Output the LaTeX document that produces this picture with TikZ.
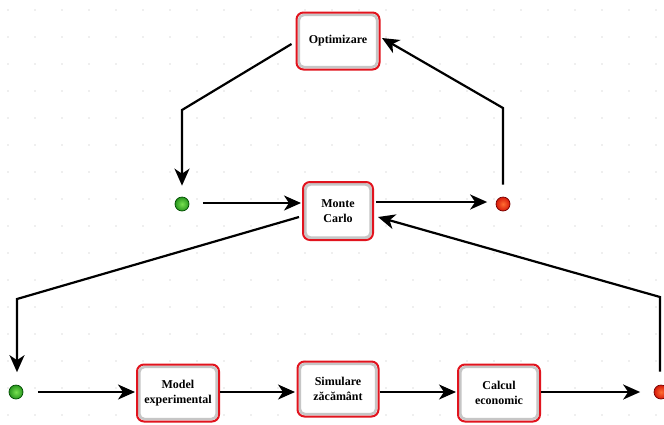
\documentclass[tikz,border=0pt]{standalone}
\usepackage{fontspec}
\setmainfont{Liberation Serif}
\usetikzlibrary{arrows.meta}
\definecolor{boxred}{RGB}{225,20,30}
\definecolor{gin}{RGB}{120,225,80}
\definecolor{gout}{RGB}{40,150,30}
\definecolor{rin}{RGB}{255,110,50}
\definecolor{rout}{RGB}{215,25,10}
\tikzset{
  procbox/.style={draw=boxred, line width=2pt, rounded corners=7pt, fill=white,
    align=center, inner sep=0pt,
    font=\fontsize{12}{15}\selectfont\bfseries,
    path picture={\draw[gray!45, line width=2.6pt, rounded corners=5pt]
      ([shift={(2.4pt,-2.4pt)}]path picture bounding box.north west) rectangle
      ([shift={(-2.4pt,2.4pt)}]path picture bounding box.south east);}},
  gdot/.style={circle, minimum size=14pt, inner sep=0pt, draw=green!30!black, line width=0.7pt, inner color=gin, outer color=gout},
  rdot/.style={circle, minimum size=14pt, inner sep=0pt, draw=red!45!black, line width=0.7pt, inner color=rin, outer color=rout},
  conn/.style={line width=2.2pt, -{Stealth[length=17pt,width=15pt,inset=5pt]}}
}
\begin{document}
\begin{tikzpicture}[x=1pt,y=-1pt]
\useasboundingbox (0,0) rectangle (664,424);
\fill[white] (0,0) rectangle (664,424);
% faint background dot grid
\foreach \i in {0,...,24}{\foreach \j in {0,...,15}{
  \fill[gray!25] (8+27*\i,10+27*\j) circle (0.8);}}
% nodes
\node[procbox, minimum width=83pt, minimum height=57pt] (opt) at (338,41) {Optimizare};
\node[procbox, minimum width=70pt, minimum height=58pt] (mc) at (338,211) {Monte\\Carlo};
\node[gdot] (g1) at (182,204) {};
\node[rdot] (r1) at (503,204) {};
\node[gdot] (g2) at (16,392) {};
\node[rdot] (r2) at (661,392) {};
\node[procbox, minimum width=82pt, minimum height=57pt] (me) at (178,393) {Model\\experimental};
\node[procbox, minimum width=81pt, minimum height=55pt] (sz) at (338,389) {Simulare\\zăcământ};
\node[procbox, minimum width=82pt, minimum height=57pt] (ce) at (499,393) {Calcul\\economic};
% bend points
\coordinate (b1) at (182,110);
\coordinate (b2) at (503,108);
\coordinate (b3) at (17,299);
\coordinate (b4) at (660,297);
% connectors
\draw[conn] ([xshift=-4pt,yshift=-3pt]opt.west) -- (b1) -- ([yshift=11pt]g1.north);
\draw[conn] ([yshift=12pt]r1.north) -- (b2) -- ([xshift=1.5pt,yshift=3pt]opt.east);
\draw[conn] ([xshift=13.5pt,yshift=1pt]g1.east) -- ([xshift=-1pt,yshift=8pt]mc.west);
\draw[conn] ([xshift=2pt,yshift=9pt]mc.east) -- ([xshift=-8.5pt,yshift=2pt]r1.west);
\draw[conn] ([xshift=-3pt,yshift=-6pt]mc.west) -- (b3) -- ([xshift=1pt,yshift=12.5pt]g2.north);
\draw[conn] ([xshift=-1pt,yshift=13pt]r2.north) -- (b4) -- ([xshift=4pt,yshift=-6pt]mc.east);
\draw[conn] ([xshift=14.5pt]g2.east) -- ([xshift=-1pt,yshift=1pt]me.west);
\draw[conn] ([yshift=1pt]me.east) -- ([xshift=-1.5pt,yshift=-3pt]sz.west);
\draw[conn] ([yshift=-3pt]sz.east) -- ([xshift=-1pt,yshift=1pt]ce.west);
\draw[conn] ([yshift=1pt]ce.east) -- ([xshift=-13.5pt]r2.west);
\end{tikzpicture}
\end{document}
